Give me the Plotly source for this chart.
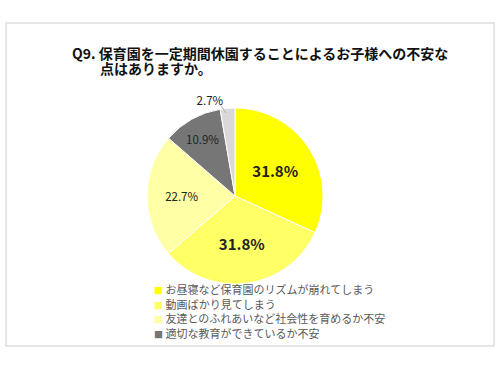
import plotly.graph_objects as go

labels = ["お昼寝など保育園のリズムが崩れてしまう", "動画ばかり見てしまう",
          "友達とのふれあいなど社会性を育めるか不安", "適切な教育ができているか不安", "その他"]
values = [31.8, 31.8, 22.7, 10.9, 2.7]
text_labels = ["31.8%", "31.8%", "22.7%", "10.9%", "2.7%"]
colors = ["#FFFF00", "#FFFF66", "#FFFFA6", "#767676", "#D9D9D9"]
legend_count = 4

W, H = 500, 369
FONT = "Noto Sans CJK JP"

fig = go.Figure()
fig.add_trace(go.Pie(
    labels=labels, values=values, text=text_labels, textinfo="text",
    sort=False, direction="clockwise", rotation=0,
    marker=dict(colors=colors, line=dict(color="white", width=1)),
    textposition=["inside", "inside", "inside", "inside", "outside"],
    insidetextorientation="horizontal",
    textfont=dict(family=FONT, color="#222222",
                  size=[15, 15, 11.5, 11.5, 11.5]),
    texttemplate=["<b>%{text}</b>", "<b>%{text}</b>", "%{text}", "%{text}", "%{text}"],
    domain=dict(x=[(235 - 88) / W, (235 + 88) / W], y=[1 - (196 + 88) / H, 1 - (196 - 88) / H]),
    showlegend=False, hoverinfo="label+percent",
))

annotations = [
    dict(text="<b>Q9. 保育園を一定期間休園することによるお子様への不安な</b>",
         x=70 / W, y=1 - 53 / H, xref="paper", yref="paper", xanchor="left", yanchor="middle",
         showarrow=False, font=dict(family=FONT, size=14, color="#111111")),
    dict(text="<b>\u3000\u3000点はありますか。</b>",
         x=70 / W, y=1 - 68 / H, xref="paper", yref="paper", xanchor="left", yanchor="middle",
         showarrow=False, font=dict(family=FONT, size=14, color="#111111")),
    # leader line for the small outside label
    dict(text="", x=226 / W, y=1 - 113 / H, ax=-7, ay=-10,
         xref="paper", yref="paper", axref="pixel", ayref="pixel",
         showarrow=True, arrowhead=0, arrowwidth=0.8, arrowcolor="#A6A6A6"),
]
for i in range(legend_count):
    annotations.append(dict(
        text=f"<span style='color:{colors[i]};font-size:9px'>■</span> {labels[i]}",
        x=152 / W, y=1 - (289 + i * 14.5) / H, xref="paper", yref="paper",
        xanchor="left", yanchor="middle", showarrow=False,
        font=dict(family=FONT, size=11, color="#595959")))

fig.update_layout(
    width=W, height=H, margin=dict(l=0, r=0, t=0, b=0),
    paper_bgcolor="white", plot_bgcolor="white",
    annotations=annotations,
    shapes=[dict(type="rect", xref="paper", yref="paper",
                 x0=6 / W, x1=494 / W, y0=1 - 346 / H, y1=1 - 23 / H,
                 line=dict(color="#DDDDDD", width=1.5), fillcolor="rgba(0,0,0,0)")],
)
fig.write_html("out.html")
